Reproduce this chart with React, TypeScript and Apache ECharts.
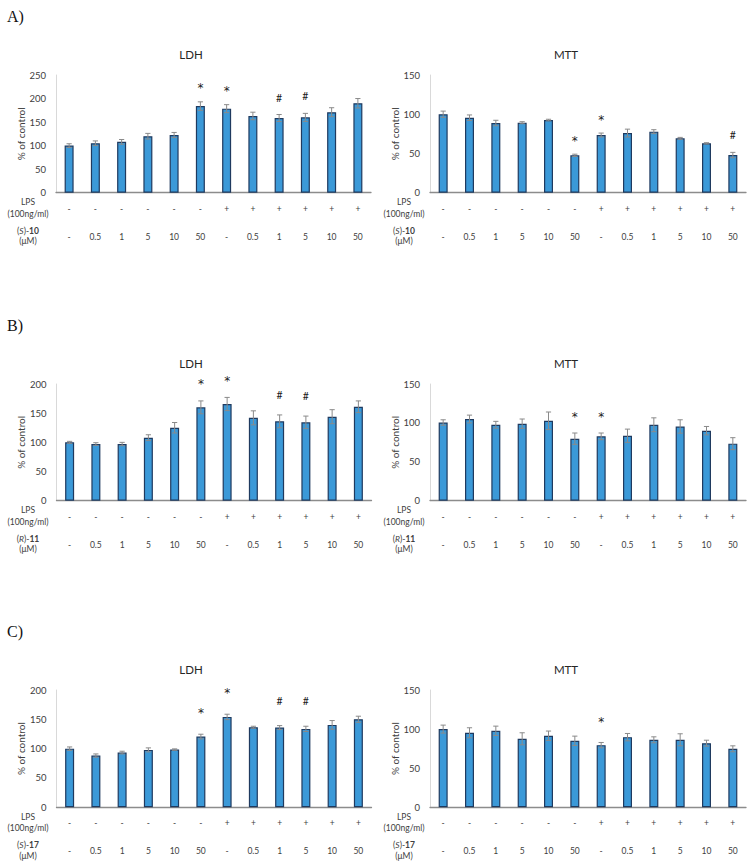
import React, { useEffect, useRef } from "react";
import * as echarts from "echarts";

// ---- tick labels ----
const lpsLabels = ["-", "-", "-", "-", "-", "-", "+", "+", "+", "+", "+", "+"];
const concLabels = ["-", "0.5", "1", "5", "10", "50", "-", "0.5", "1", "5", "10", "50"];
const ldhTicksMaxA = 250;
const ldhTicksMax = 200;
const mttTicksMax = 150;

// ---- panel A: (S)-10 ----
const ldhA = [100, 105, 108, 120, 122.5, 184, 178.5, 163, 158.6, 160, 171, 190];
const ldhAErr = [4, 5, 5, 6, 5.5, 9, 8.5, 8, 7.5, 8.5, 9.5, 10];
const ldhAMarks = ["", "", "", "", "", "*", "*", "", "#", "#", "", ""];
const mttA = [100, 95.6, 88.8, 89.2, 92.6, 47.6, 73.5, 76, 77.8, 69.3, 62.9, 48];
const mttAErr = [4, 3.5, 3.5, 1.3, 1, 1.5, 2.5, 5, 2.5, 1.2, 0.8, 3.4];
const mttAMarks = ["", "", "", "", "", "*", "*", "", "", "", "", "#"];

// ---- panel B: (R)-11 ----
const ldhB = [100, 97.1, 97.1, 108, 125, 160, 165.7, 142, 136, 134.3, 144, 161];
const ldhBErr = [1.7, 2.3, 2.9, 5, 9, 11, 11.3, 12, 11, 10.7, 12, 10];
const ldhBMarks = ["", "", "", "", "", "*", "*", "", "#", "#", "", ""];
const mttB = [100.5, 105, 97.6, 99, 102.7, 79.7, 82.7, 83.5, 97.6, 95.4, 90, 73.3];
const mttBErr = [3.5, 5, 4.4, 6, 11.3, 7.3, 4.3, 8.5, 8.9, 8.6, 5.4, 7.7];
const mttBMarks = ["", "", "", "", "", "*", "*", "", "", "", "", ""];

// ---- panel C: (S)-17 ----
const ldhC = [100, 88.2, 93.3, 97.9, 98.4, 120.6, 154.1, 136.5, 135.9, 133.7, 140.5, 150.1];
const ldhCErr = [2.9, 2.8, 2.3, 3.4, 1.2, 4, 4.6, 1.7, 3.4, 4.5, 7.4, 5.2];
const ldhCMarks = ["", "", "", "", "", "*", "*", "", "#", "#", "", ""];
const mttC = [100, 95.3, 97.8, 87.6, 91.5, 85, 79.5, 89.7, 86.3, 86.3, 82, 74.8];
const mttCErr = [5.1, 6.4, 6, 7.7, 6, 6, 3.4, 4.7, 3.8, 7.7, 3.8, 3.8];
const mttCMarks = ["", "", "", "", "", "", "*", "", "", "", "", ""];

const FONT = "Lato, 'Open Sans', sans-serif";
const MARK_FONT = "'DejaVu Sans', 'Noto Sans', sans-serif";
const SERIF = "'Liberation Serif', 'DejaVu Serif', serif";
const BAR_FILL = "#3b99d8";
const BAR_EDGE = "#1f3a5f";
const ERR = "#8a8a8a";
const TEXT = "#404040";

type Panel = {
  left: number; top: number; width: number; height: number;
  max: number; values: number[]; errs: number[]; marks: string[];
  markGap: number;
  title: string; titleX: number;
  rowX: number; compound: { pre: string; it: string; mid: string; bold: string };
};

const cmpA = { pre: "(", it: "S", mid: ")-", bold: "10" };
const cmpB = { pre: "(", it: "R", mid: ")-", bold: "11" };
const cmpC = { pre: "(", it: "S", mid: ")-", bold: "17" };

const panels: Panel[] = [
  { left: 56, top: 75, width: 315, height: 117.7, max: ldhTicksMaxA, values: ldhA, errs: ldhAErr, marks: ldhAMarks, markGap: 17, title: "LDH", titleX: 191, rowX: 28, compound: cmpA },
  { left: 430, top: 75, width: 316, height: 117.7, max: mttTicksMax, values: mttA, errs: mttAErr, marks: mttAMarks, markGap: 17, title: "MTT", titleX: 566, rowX: 404, compound: cmpA },
  { left: 56.5, top: 384, width: 315, height: 116.7, max: ldhTicksMax, values: ldhB, errs: ldhBErr, marks: ldhBMarks, markGap: 20, title: "LDH", titleX: 191, rowX: 28, compound: cmpB },
  { left: 430, top: 384, width: 316, height: 116.7, max: mttTicksMax, values: mttB, errs: mttBErr, marks: mttBMarks, markGap: 20, title: "MTT", titleX: 566, rowX: 404, compound: cmpB },
  { left: 56.5, top: 690, width: 315, height: 117.3, max: ldhTicksMax, values: ldhC, errs: ldhCErr, marks: ldhCMarks, markGap: 25, title: "LDH", titleX: 191, rowX: 28, compound: cmpC },
  { left: 430, top: 690, width: 316, height: 117.3, max: mttTicksMax, values: mttC, errs: mttCErr, marks: mttCMarks, markGap: 24, title: "MTT", titleX: 566, rowX: 404, compound: cmpC },
];

const letters = [
  { text: "A)", top: 75 },
  { text: "B)", top: 384 },
  { text: "C)", top: 690 },
];

const categories = concLabels.map((c, i) => `${lpsLabels[i]}|${c}|${i}`);

function buildOption() {
  const grid: any[] = [];
  const xAxis: any[] = [];
  const yAxis: any[] = [];
  const series: any[] = [];
  const graphic: any[] = [];

  panels.forEach((p, i) => {
    grid.push({ left: p.left, top: p.top, width: p.width, height: p.height, outerBoundsMode: "none", containLabel: false });
    xAxis.push({
      type: "category",
      gridIndex: i,
      data: categories,
      axisLine: { show: true, lineStyle: { color: "#8c8c8c", width: 1.3 } },
      axisTick: { show: false },
      splitLine: { show: false },
      axisLabel: {
        interval: 0,
        margin: 2,
        formatter: (_v: string, idx: number) => `{l|${lpsLabels[idx]}}\n{c|${concLabels[idx]}}`,
        rich: {
          l: { fontSize: 8.5, fontFamily: FONT, color: TEXT, lineHeight: 28 },
          c: { fontSize: 8.5, fontFamily: FONT, color: TEXT, lineHeight: 28 },
        },
      },
    });
    yAxis.push({
      type: "value",
      gridIndex: i,
      min: 0,
      max: p.max,
      interval: 50,
      axisLine: { show: true, lineStyle: { color: "#d9d9d9", width: 1 } },
      axisTick: { show: false },
      splitLine: { show: false },
      axisLabel: { fontSize: 9.5, fontFamily: FONT, color: TEXT, margin: 10 },
      name: "% of control",
      nameLocation: "middle",
      nameGap: 30,
      nameTextStyle: { fontSize: 10, fontFamily: FONT, color: TEXT },
    });
    series.push({
      type: "bar",
      xAxisIndex: i,
      yAxisIndex: i,
      data: p.values,
      barWidth: 9,
      itemStyle: { color: BAR_FILL, borderColor: BAR_EDGE, borderWidth: 1.2 },
      z: 2,
    });
    series.push({
      type: "custom",
      xAxisIndex: i,
      yAxisIndex: i,
      data: p.values.map((v, j) => [j, v, p.errs[j]]),
      encode: { x: 0, y: 1 },
      z: 5,
      renderItem: (_params: any, api: any) => {
        const x = api.value(0);
        const v = api.value(1);
        const e = api.value(2);
        const top = api.coord([x, v + e]);
        const bot = api.coord([x, v - e]);
        const cap = 2.6;
        const st = { stroke: ERR, lineWidth: 1 };
        return {
          type: "group",
          children: [
            { type: "line", shape: { x1: top[0], y1: top[1], x2: bot[0], y2: bot[1] }, style: st },
            { type: "line", shape: { x1: top[0] - cap, y1: top[1], x2: top[0] + cap, y2: top[1] }, style: st },
            { type: "line", shape: { x1: bot[0] - cap, y1: bot[1], x2: bot[0] + cap, y2: bot[1] }, style: st },
          ],
        };
      },
    });
    const markData = p.values
      .map((v, j) => [j, v + p.errs[j]])
      .filter((d) => p.marks[d[0]] !== "");
    series.push({
      type: "custom",
      xAxisIndex: i,
      yAxisIndex: i,
      data: markData,
      encode: { x: 0, y: 1 },
      z: 6,
      renderItem: (_params: any, api: any) => {
        const j = api.value(0);
        const t = api.value(1);
        const pt = api.coord([j, t]);
        const txt = p.marks[j];
        const isStar = txt === "*";
        return {
          type: "text",
          x: pt[0],
          y: pt[1] - p.markGap + (isStar ? 3.5 : 0),
          style: {
            text: txt,
            fill: "#1a1a1a",
            fontSize: isStar ? 12 : 10.5,
            fontFamily: isStar ? MARK_FONT : FONT,
            align: "center",
            verticalAlign: "middle",
          },
        };
      },
    });

    // titles
    graphic.push({
      type: "text",
      x: p.titleX,
      y: p.top - 21,
      style: { text: p.title, fill: "#262626", fontSize: 11.5, fontFamily: FONT, align: "center", verticalAlign: "middle", textAlign: "center", textVerticalAlign: "middle" },
    });
    const axisY = p.top + p.height;
    graphic.push({
      type: "text",
      x: p.rowX,
      y: axisY + 3.8,
      style: { text: "LPS\n(100ng/ml)", fill: TEXT, fontSize: 8.5, fontFamily: FONT, lineHeight: 11.5, align: "center", verticalAlign: "top", textAlign: "center", textVerticalAlign: "top" },
    });
    const c = p.compound;
    graphic.push({
      type: "text",
      x: p.rowX,
      y: axisY + 32.8,
      style: {
        text: `{n|${c.pre}}{i|${c.it}}{n|${c.mid}}{b|${c.bold}}\n{n|(μM)}`,
        rich: {
          n: { fontSize: 8.5, fontFamily: FONT, fill: TEXT, lineHeight: 10.5 },
          i: { fontSize: 8.5, fontFamily: FONT, fill: TEXT, fontStyle: "italic", lineHeight: 10.5 },
          b: { fontSize: 8.5, fontFamily: FONT, fill: TEXT, fontWeight: "bold", lineHeight: 10.5 },
        },
        fill: TEXT,
        fontSize: 8.5,
        fontFamily: FONT,
        lineHeight: 10.5,
        align: "center",
        verticalAlign: "top",
        textAlign: "center",
        textVerticalAlign: "top",
      },
    });
  });

  letters.forEach((l) => {
    graphic.push({
      type: "text",
      x: 7,
      y: l.top - 59,
      style: { text: l.text, fill: "#111", fontSize: 16, fontFamily: SERIF, align: "left", verticalAlign: "middle", textAlign: "left", textVerticalAlign: "middle" },
    });
  });

  return {
    animation: false,
    backgroundColor: "#ffffff",
    grid,
    xAxis,
    yAxis,
    series,
    graphic,
  };
}

export default function App() {
  const ref = useRef<HTMLDivElement>(null);
  useEffect(() => {
    if (!ref.current) return;
    const chart = echarts.init(ref.current, undefined, { renderer: "svg" });
    chart.setOption(buildOption() as any);
    return () => chart.dispose();
  }, []);
  return (
    <div
      ref={ref}
      style={{ position: "absolute", left: 0, top: 0, width: 754, height: 868, background: "#fff" }}
    />
  );
}
